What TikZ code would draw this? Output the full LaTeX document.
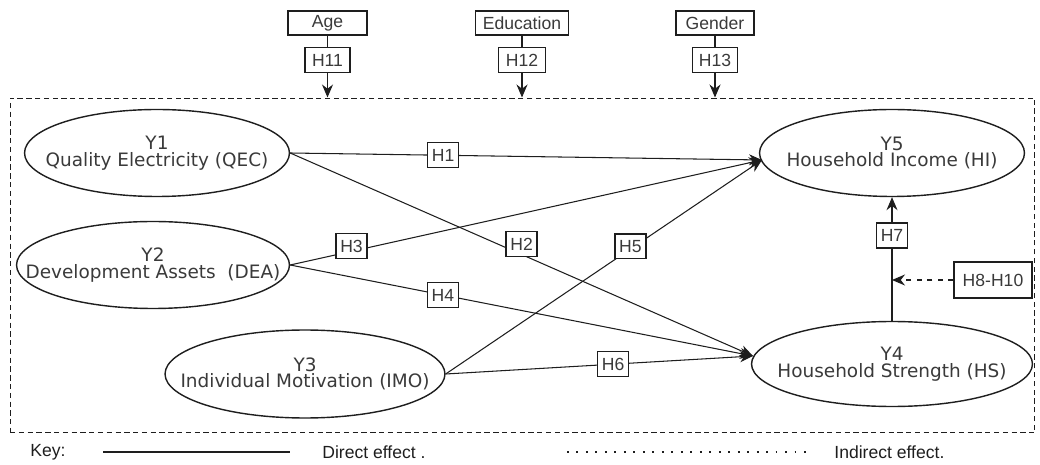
\documentclass[tikz,border=0pt]{standalone}
\usepackage{fontspec}
\setmainfont{Liberation Sans}
\newfontfamily\vfont{DejaVu Sans}
\usetikzlibrary{arrows.meta,positioning,calc,shapes.geometric}
\definecolor{ink}{HTML}{1E1E1E}
\definecolor{txt}{HTML}{3A3A3A}

\begin{document}
\begin{tikzpicture}[x=0.02cm,y=-0.02cm,font=\fontsize{10}{11}\selectfont,
  lat/.style={ellipse,draw=ink,line width=0.8pt,fill=white,inner xsep=-22pt,inner ysep=0pt,minimum width=5.3cm,minimum height=1.74cm,align=center,text=txt,font=\vfont\fontsize{10.5}{9.5}\selectfont},
  hyp/.style={draw=ink,fill=white,line width=0.7pt,inner sep=0pt,minimum width=0.62cm,minimum height=0.5cm,text=txt},
  ctl/.style={draw=ink,fill=white,line width=0.7pt,inner sep=0pt,minimum height=0.48cm,text=txt},
  arr/.style={draw=ink,line width=0.6pt,-{Stealth[length=2.6mm,width=2.2mm]}},
  ln/.style={draw=ink,line width=0.6pt}]
\useasboundingbox (0,0) rectangle (1040,465);
% moderating frame
\node[draw=ink,dash pattern=on 3pt off 2pt,line width=0.6pt,minimum width=20.5cm,minimum height=6.7cm,inner sep=0pt] (frm) at (522.5,265.5) {};
% constructs
\node[lat] (y1) at (157,153) {Y1\\Quality Electricity (QEC)};
\node[lat,minimum width=5.46cm] (y2) at (153,265) {Y2\\Development Assets\ \ (DEA)};
\node[lat,minimum width=5.6cm,minimum height=1.76cm] (y3) at (305,374) {Y3\\Individual Motivation (IMO)};
\node[lat,minimum width=5.62cm,minimum height=1.7cm] (y4) at (892,364) {Y4\\Household Strength (HS)};
\node[lat] (y5) at (892,153) {Y5\\Household Income (HI)};
% moderators
\node[ctl,minimum width=1.58cm] (age) at (327.5,23) {Age};
\node[ctl,minimum width=1.86cm] (edu) at (522,23) {Education};
\node[ctl,minimum width=1.56cm] (gen) at (715,23) {Gender};
\node[hyp,minimum width=0.9cm] (h11) at (327.5,60) {H11};
\node[hyp,minimum width=0.94cm] (h12) at (522,60) {H12};
\node[hyp,minimum width=0.9cm] (h13) at (715,60) {H13};
\draw[ln] (age) -- (h11);
\draw[ln] (edu) -- (h12);
\draw[ln] (gen) -- (h13);
\draw[arr] (h11) -- (h11 |- frm.north);
\draw[arr] (h12) -- (h12 |- frm.north);
\draw[arr] (h13) -- (h13 |- frm.north);
% paths
\coordinate (t5) at (762,160);
\coordinate (t4) at (753,356);
\draw[arr] (y1.east) -- node[hyp,pos=.324] (h1) {H1} (t5);
\draw[arr] (y1.east) -- node[hyp,pos=.5,yshift=6pt] (h2) {H2} (t4);
\draw[arr] (y2.east) -- node[hyp,pos=.13,yshift=3pt] (h3) {H3} (t5);
\draw[arr] (y2.east) -- node[hyp,pos=.33] (h4) {H4} (t4);
\draw[arr] (y3.east) -- node[hyp,pos=.584,yshift=1.5pt] (h5) {H5} (t5);
\draw[arr] (y3.east) -- node[hyp,pos=.545] (h6) {H6} (t4);
\draw[arr] (y4.north) -- node[hyp,pos=.69] (h7) {H7} (y5.south);
\node[hyp,minimum width=1.56cm,minimum height=0.72cm] (h810) at (993,280) {H8-H10};
\draw[arr,dashed] (h810.west) -- (h810.west -| y4.north);
% key
\node[anchor=west,inner sep=0pt,text=ink] (key) at (30,452) {Key:};
\coordinate (d0) at (103,452);
\coordinate (d1) at (290,452);
\draw[draw=ink,line width=1.6pt] (d0) -- (d1);
\node[anchor=west,inner sep=0pt,text=ink] (dir) at (322,452) {Direct effect .};
\coordinate (i0) at (567,452);
\coordinate (i1) at (806,452);
\draw[draw=ink,line width=1.2pt,dash pattern=on 1pt off 4.4pt] (i0) -- (i1);
\node[anchor=west,inner sep=0pt,text=ink] (ind) at (834,452) {Indirect effect.};
\end{tikzpicture}
\end{document}
